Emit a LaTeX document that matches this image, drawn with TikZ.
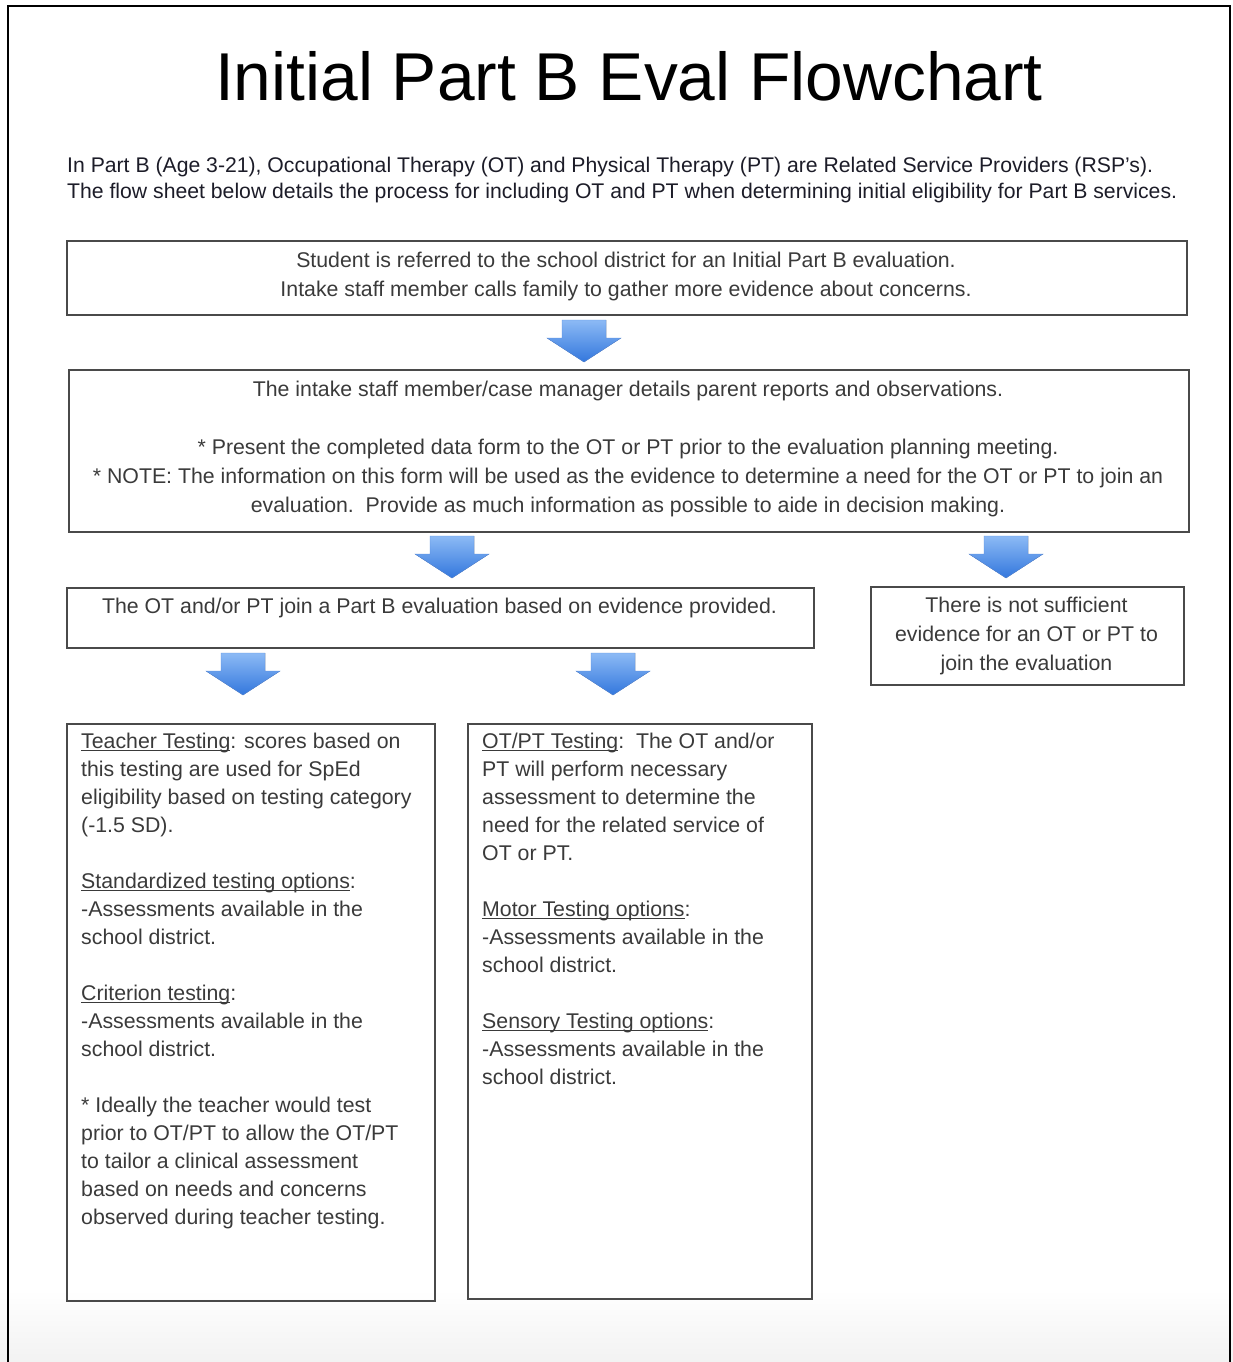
\documentclass[tikz,border=0pt]{standalone}
\usepackage{fontspec}
\setmainfont{Liberation Sans}
\definecolor{boxline}{HTML}{4A4A4A}
\definecolor{boxtext}{HTML}{3A3A3A}
\definecolor{introtext}{HTML}{1C1C28}
\definecolor{arrowtop}{HTML}{8CBAF5}
\definecolor{arrowbot}{HTML}{3377DD}
\definecolor{arrowedge}{HTML}{5A8EE0}
\definecolor{fadegray}{HTML}{F2F2F2}
\newcommand\firststrut{\rule{0pt}{18pt}}
\newcommand\boxfont{\fontsize{21.3}{28}\selectfont}
\newcommand\boxfontwide{\fontsize{21.3}{29}\selectfont}
\newcommand\myuline[1]{\setbox0\hbox{#1}\rlap{\rule[-3pt]{\wd0}{1.2pt}}\box0}
\tikzset{
  stepbox/.style={draw=boxline, line width=1.8pt, rectangle, inner sep=0pt, anchor=north west},
  boxtxt/.style={inner sep=0pt, text=boxtext, font=\boxfont},
  boxtxtwide/.style={inner sep=0pt, text=boxtext, font=\boxfontwide},
  bluearrow/.pic={
    \fill[top color=arrowtop, bottom color=arrowbot]
      (-22,0) -- (22,0) -- (22,18) -- (37,18) -- (0,42) -- (-37,18) -- (-22,18) -- cycle;
    \draw[arrowedge, line width=0.4pt]
      (-22,0) -- (22,0) -- (22,18) -- (37,18) -- (0,42) -- (-37,18) -- (-22,18) -- cycle;
  }
}
\begin{document}
\begin{tikzpicture}[x=1pt, y=-1pt]
\useasboundingbox (0,0) rectangle (1233,1362);
% background fade and frame
\shade[top color=white, bottom color=fadegray] (0,1290) rectangle (1233,1362);
\draw[line width=2.5pt] (8,1362) -- (8,6) -- (1230,6) -- (1230,1362);

% title and intro
\node[inner sep=0pt, anchor=base, font=\fontsize{67.7}{80}\selectfont] (title) at (629,101) {Initial Part B Eval Flowchart};
\node[inner sep=0pt, anchor=north west, align=left, text=introtext, font=\fontsize{21.2}{26}\selectfont] (intro) at (67,154)
  {\firststrut In Part B (Age 3-21), Occupational Therapy (OT) and Physical Therapy (PT) are Related Service Providers (RSP's).\\
   The flow sheet below details the process for including OT and PT when determining initial eligibility for Part B services.};

% boxes
\node[stepbox, minimum width=1120pt, minimum height=74pt] (b1) at (66,240) {};
\node[stepbox, minimum width=1120pt, minimum height=162pt] (b2) at (68,369) {};
\node[stepbox, minimum width=747pt, minimum height=60pt] (b3) at (66,587) {};
\node[stepbox, minimum width=313pt, minimum height=98pt] (b4) at (870,586) {};
\node[stepbox, minimum width=368pt, minimum height=577pt] (b5) at (66,723) {};
\node[stepbox, minimum width=344pt, minimum height=575pt] (b6) at (467,723) {};

% arrows
\pic (a1) at (584,320) {bluearrow};
\pic (a2) at (452,536) {bluearrow};
\pic (a3) at (1006,536) {bluearrow};
\pic (a4) at (243,653) {bluearrow};
\pic (a5) at (613,653) {bluearrow};

% box texts
\node[boxtxtwide, anchor=north, align=center] (t1) at (626,249)
  {\firststrut Student is referred to the school district for an Initial Part B evaluation.\\
   Intake staff member calls family to gather more evidence about concerns.};

\node[boxtxtwide, anchor=north, align=center] (t2) at (628,378)
  {\firststrut The intake staff member/case manager details parent reports and observations.\\[29pt]
   * Present the completed data form to the OT or PT prior to the evaluation planning meeting.\\
   * NOTE: The information on this form will be used as the evidence to determine a need for the OT or PT to join an\\
   evaluation.\ \ Provide as much information as possible to aide in decision making.};

\node[boxtxtwide, anchor=north, align=center] (t3) at (439.5,595)
  {\firststrut The OT and/or PT join a Part B evaluation based on evidence provided.};

\node[boxtxtwide, anchor=north, align=center] (t4) at (1026.5,594)
  {\firststrut There is not sufficient\\
   evidence for an OT or PT to\\
   join the evaluation};

\node[boxtxt, anchor=north west, align=left] (t5) at (81,730)
  {\firststrut\myuline{Teacher Testing}: scores based on\\
   this testing are used for SpEd\\
   eligibility based on testing category\\
   (-1.5 SD).\\[28pt]
   \myuline{Standardized testing options}:\\
   -Assessments available in the\\
   school district.\\[28pt]
   \myuline{Criterion testing}:\\
   -Assessments available in the\\
   school district.\\[28pt]
   * Ideally the teacher would test\\
   prior to OT/PT to allow the OT/PT\\
   to tailor a clinical assessment\\
   based on needs and concerns\\
   observed during teacher testing.};

\node[boxtxt, anchor=north west, align=left] (t6) at (482,730)
  {\firststrut\myuline{OT/PT Testing}:\ \ The OT and/or\\
   PT will perform necessary\\
   assessment to determine the\\
   need for the related service of\\
   OT or PT.\\[28pt]
   \myuline{Motor Testing options}:\\
   -Assessments available in the\\
   school district.\\[28pt]
   \myuline{Sensory Testing options}:\\
   -Assessments available in the\\
   school district.};
\end{tikzpicture}
\end{document}
